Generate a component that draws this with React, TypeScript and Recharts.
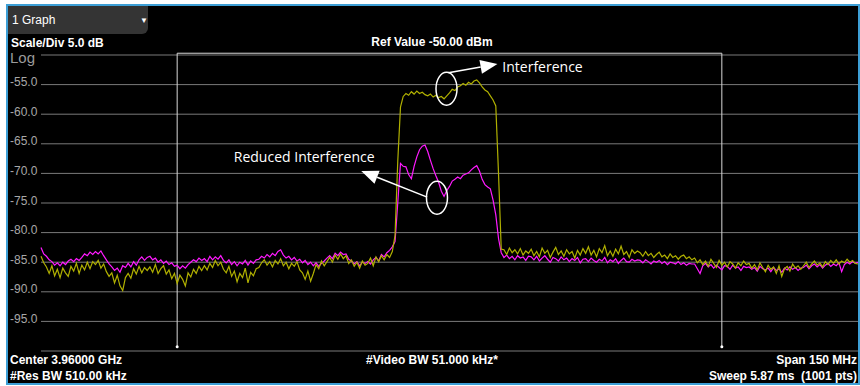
import React from 'react'
import { LineChart, Line, XAxis, YAxis, CartesianGrid, ReferenceLine, ReferenceDot } from 'recharts'

// sweep: 301 points, -75 MHz .. +75 MHz around 3.96 GHz
const START_MHZ = -75
const STEP_MHZ = 0.5

// trace 1 (yellow) - with interference, dBm
const trace1 = [
  -84.0, -85.1, -85.8, -86.9, -85.6, -87.3, -86.2, -87.6, -86.0, -86.8, -87.4, -85.7, -86.5, -85.2, -86.9, -85.5, -86.3, -85.0, -86.1, -84.9,
  -85.4, -84.7, -86.0, -85.3, -86.6, -87.4, -86.8, -88.5, -87.2, -89.0, -89.8, -87.6, -86.9, -87.7, -86.1, -87.0, -85.7, -86.8, -85.9, -86.4,
  -85.8, -86.7, -85.4, -86.9, -86.1, -85.6, -87.0, -86.3, -87.8, -86.9, -88.6, -87.2, -87.9, -89.0, -86.8, -87.5, -86.2, -86.9, -85.7, -86.4,
  -85.6, -86.3, -85.2, -85.9, -84.7, -85.6, -85.0, -86.2, -86.8, -85.7, -87.4, -86.5, -88.3, -86.9, -87.6, -86.0, -88.5, -86.7, -87.3, -86.1,
  -85.9, -85.1, -84.6, -85.5, -84.9, -85.8, -84.7, -85.3, -84.4, -85.6, -85.0, -86.1, -85.2, -85.7, -84.9, -86.3, -86.8, -87.9, -86.5, -88.2,
  -86.9, -85.4, -86.1, -84.8, -85.6, -84.9, -84.2, -85.0, -83.8, -84.5, -83.6, -84.4, -83.9, -85.2, -84.6, -85.7, -85.0, -86.0, -84.8, -85.5,
  -85.2, -84.3, -85.6, -84.1, -84.9, -83.9, -84.6, -83.7, -84.2, -83.2, -80.5, -68.0, -58.8, -57.0, -56.5, -56.8, -56.2, -56.6, -56.1, -56.5,
  -56.3, -56.7, -56.9, -56.6, -57.1, -56.8, -57.2, -57.0, -57.4, -56.9, -56.4, -55.8, -56.0, -55.4, -55.2, -54.8, -55.1, -54.6, -54.9, -54.4,
  -54.2, -54.7, -55.4, -55.9, -56.2, -56.9, -57.6, -58.6, -70.0, -82.8, -82.9, -83.7, -82.6, -83.4, -82.9, -83.6, -82.7, -83.8, -83.1, -83.5,
  -82.8, -83.9, -83.2, -84.1, -82.6, -83.5, -83.0, -84.2, -83.3, -82.5, -83.7, -83.1, -84.0, -82.9, -83.6, -83.2, -84.3, -83.0, -83.8, -82.7,
  -83.5, -82.4, -83.8, -83.0, -84.1, -82.7, -83.4, -82.2, -83.9, -83.1, -84.0, -82.8, -83.6, -82.3, -83.7, -83.2, -84.2, -82.9, -83.5, -83.1,
  -83.4, -84.0, -83.2, -83.9, -83.5, -84.2, -83.7, -83.3, -84.1, -83.8, -84.4, -83.6, -84.2, -83.9, -84.5, -84.0, -83.8, -84.4, -84.1, -84.6,
  -84.3, -85.1, -84.6, -85.4, -84.8, -85.7, -84.5, -85.2, -85.9, -84.7, -85.5, -85.0, -85.8, -84.9, -85.3, -86.0, -85.1, -85.6, -84.8, -85.4,
  -85.2, -86.0, -85.4, -86.3, -85.1, -85.9, -86.6, -85.5, -86.2, -85.8, -86.9, -85.6, -87.4, -86.1, -85.7, -86.5, -85.3, -86.0, -85.6, -86.2,
  -85.6, -85.0, -85.9, -85.3, -84.8, -85.5, -85.1, -85.8, -84.9, -85.4, -84.7, -85.2, -84.6, -85.3, -84.8, -85.1, -84.5, -85.0, -84.7, -85.2,
  -85.3,
]

// trace 2 (magenta) - reduced interference, dBm
const trace2 = [
  -82.5, -83.6, -84.0, -84.6, -84.9, -85.5, -85.1, -85.6, -85.0, -85.4, -84.8, -84.5, -84.9, -84.4, -84.7, -84.2, -83.6, -83.9, -83.3, -83.7,
  -83.2, -83.6, -83.1, -83.9, -84.6, -85.3, -85.8, -86.4, -86.0, -86.7, -85.6, -85.9, -85.2, -85.8, -84.9, -85.5, -84.6, -84.1, -84.7, -84.2,
  -84.0, -84.6, -84.3, -85.0, -84.6, -85.2, -84.8, -85.4, -85.1, -85.7, -85.5, -86.1, -85.6, -86.0, -85.4, -85.0, -84.6, -84.9, -84.3, -84.7,
  -84.4, -84.9, -84.0, -84.6, -84.1, -84.5, -83.9, -84.7, -85.1, -84.6, -85.4, -84.9, -85.6, -85.0, -85.3, -84.7, -85.5, -84.8, -85.2, -84.6,
  -84.5, -84.0, -84.3, -83.7, -84.1, -83.5, -83.9, -83.2, -82.9, -83.8, -84.3, -84.0, -84.6, -84.2, -84.8, -84.5, -85.1, -84.7, -85.4, -85.0,
  -85.6, -85.1, -85.7, -85.2, -84.8, -84.3, -83.9, -84.4, -83.5, -83.9, -83.3, -83.7, -83.6, -84.5, -84.8, -85.3, -84.9, -85.6, -85.0, -85.2,
  -84.9, -85.3, -84.6, -84.2, -84.8, -83.7, -84.1, -83.4, -83.0, -82.4, -81.5, -75.0, -68.3, -68.8, -68.9, -70.2, -70.9, -68.8, -67.2, -66.0,
  -65.4, -65.2, -66.3, -67.8, -69.2, -70.4, -71.5, -73.0, -73.9, -72.9, -72.2, -71.3, -71.0, -70.6, -70.9, -70.3, -70.1, -69.9, -69.4, -69.0,
  -68.7, -69.6, -71.0, -71.9, -72.3, -72.6, -74.5, -77.0, -81.0, -83.4, -84.2, -83.8, -84.4, -84.0, -84.6, -83.9, -84.3, -84.1, -84.7, -84.0,
  -84.1, -84.6, -84.0, -84.8, -84.3, -83.9, -84.5, -85.0, -84.2, -84.4, -84.8, -84.1, -84.6, -84.3, -84.9, -84.4, -84.7, -84.2, -85.1, -84.5,
  -84.4, -84.9, -84.3, -84.7, -85.0, -84.5, -84.8, -84.2, -85.1, -84.6, -84.9, -84.4, -85.2, -84.7, -84.3, -84.9, -85.0, -84.5, -84.8, -84.6,
  -84.7, -85.1, -84.6, -84.9, -85.3, -84.8, -85.0, -84.7, -85.2, -84.9, -85.4, -85.0, -85.1, -85.3, -84.9, -85.4, -85.1, -85.5, -85.2, -85.3,
  -85.3, -86.1, -86.9, -85.6, -85.2, -85.8, -85.4, -86.0, -85.5, -85.9, -86.3, -85.6, -85.7, -86.2, -85.5, -86.0, -85.8, -86.4, -85.7, -85.9,
  -85.8, -86.2, -85.9, -86.5, -85.7, -86.1, -86.3, -86.0, -86.6, -85.9, -86.4, -86.1, -86.7, -86.0, -86.3, -85.8, -86.2, -85.9, -86.4, -86.0,
  -85.9, -85.5, -86.1, -85.6, -85.3, -85.8, -85.4, -86.0, -85.5, -85.2, -85.7, -85.3, -85.6, -85.1, -86.6, -85.4, -85.0, -85.3, -84.9, -85.2,
  -85.0,
]

const yTicks = [-100, -95, -90, -85, -80, -75, -70, -65, -60, -55, -50]
const xTicks = [-75, -60, -45, -30, -15, 0, 15, 30, 45, 60, 75]

// channel power bracket (MHz), top/bottom level in dB
const channelEdges = [-50, 50]
const bracketTop = -49.7
const bracketBottom = -99.3

// annotations (MHz, dBm)
const ellipses = [
  { f: -0.55, db: -55.7 },
  { f: -2.3, db: -74.1 },
]
const arrows = [
  { f1: -0.2, db1: -53.0, f2: 8.8, db2: -51.5 },
  { f1: -4.1, db1: -74.0, f2: -16.2, db2: -69.6 },
]
const notes = [
  { f: 9.7, db: -52.0, text: 'Interference' },
  { f: -39.6, db: -67.2, text: 'Reduced Interference' },
]

const data = trace1.map((v, i) => ({ f: START_MHZ + i * STEP_MHZ, t1: v, t2: trace2[i] }))

const YTick = (props: any) => {
  const { y, payload } = props
  if (payload.value === -50 || payload.value === -100) return <g />
  return (
    <text x={10} y={y - 2.5} dominantBaseline="central" fill="#a8a8a8" fontSize={12}
      fontFamily='"Liberation Sans", Arial, sans-serif'>
      {payload.value.toFixed(1)}
    </text>
  )
}

const Arrow = (props: any) => {
  const { x1, y1, x2, y2 } = props
  const ang = Math.atan2(y2 - y1, x2 - x1)
  const len = 17
  const half = 7
  const bx = x2 - len * Math.cos(ang)
  const by = y2 - len * Math.sin(ang)
  const px = -Math.sin(ang) * half
  const py = Math.cos(ang) * half
  return (
    <g>
      <line x1={x1} y1={y1} x2={bx} y2={by} stroke="#fff" strokeWidth={1.5} />
      <polygon points={`${x2},${y2} ${bx + px},${by + py} ${bx - px},${by - py}`} fill="#fff" />
    </g>
  )
}

const Ellipse = (props: any) => (
  <ellipse cx={props.cx} cy={props.cy} rx={10.5} ry={16.5} fill="none" stroke="#fff" strokeWidth={1.5} />
)

const Note = (text: string) => (props: any) => (
  <text x={props.cx} y={props.cy} dominantBaseline="central" fill="#fff" fontSize={14}
    fontFamily='"Open Sans", sans-serif'>
    {text}
  </text>
)

const label: React.CSSProperties = {
  position: 'absolute', color: '#fff', fontWeight: 'bold', fontSize: 12, lineHeight: '14px', whiteSpace: 'nowrap',
}

const App = () => {
  return (
    <div style={{ position: 'absolute', left: 0, top: 0, width: 860, height: 386, background: '#fff', overflow: 'hidden',
      fontFamily: '"Liberation Sans", Arial, sans-serif' }}>
      <div style={{ position: 'absolute', left: 6, top: 4, width: 850, height: 377, background: '#000',
        border: '2px solid #3d9fd6' }} />
      <div style={{ position: 'absolute', left: 8, top: 6, width: 140, height: 28, background: '#343434',
        borderBottomRightRadius: 6 }} />
      <div style={{ ...label, left: 12, top: 13, fontWeight: 'normal' }}>1 Graph</div>
      <div style={{ ...label, left: 140, top: 14, fontSize: 8 }}>▼</div>
      <div style={{ ...label, left: 11, top: 36 }}>Scale/Div 5.0 dB</div>
      <div style={{ ...label, left: 10, top: 50, color: '#9a9a9a', fontWeight: 'normal', fontSize: 15, lineHeight: '16px' }}>Log</div>
      <div style={{ ...label, left: 332, width: 200, top: 35, textAlign: 'center' }}>Ref Value -50.00 dBm</div>
      <div style={{ ...label, left: 10, top: 353 }}>Center 3.96000 GHz</div>
      <div style={{ ...label, left: 10, top: 369 }}>#Res BW 510.00 kHz</div>
      <div style={{ ...label, left: 332, width: 200, top: 353, textAlign: 'center' }}>#Video BW 51.000 kHz*</div>
      <div style={{ ...label, right: 3, top: 353 }}>Span 150 MHz</div>
      <div style={{ ...label, right: 3, top: 369 }}>Sweep 5.87 ms&nbsp; (1001 pts)</div>

      <div style={{ position: 'absolute', left: 0, top: 0 }}>
        <LineChart width={860} height={386} data={data} margin={{ top: 55, right: 2, bottom: 0, left: 8 }}>
          <CartesianGrid stroke="#7a7a7a" horizontalValues={yTicks} verticalValues={xTicks} />
          <XAxis dataKey="f" type="number" domain={[-75, 75]} ticks={xTicks} tick={false} tickLine={false}
            axisLine={false} height={35} />
          <YAxis type="number" domain={[-100, -50]} ticks={yTicks} interval={0} width={33} tickLine={false}
            axisLine={false} tick={<YTick />} />

          {channelEdges.map((x) => (
            <ReferenceLine key={`edge-${x}`} segment={[{ x, y: bracketTop }, { x, y: bracketBottom }]}
              stroke="#d8d8d8" ifOverflow="visible" />
          ))}
          <ReferenceLine segment={[{ x: channelEdges[0], y: bracketTop }, { x: channelEdges[1], y: bracketTop }]}
            stroke="#d8d8d8" ifOverflow="visible" />
          {channelEdges.map((x) => (
            <ReferenceDot key={`dot-${x}`} x={x} y={bracketBottom} r={1.5} fill="#fff" stroke="none" ifOverflow="visible" />
          ))}

          <Line type="linear" dataKey="t2" stroke="#ff1aff" strokeWidth={1.2} dot={false} isAnimationActive={false} />
          <Line type="linear" dataKey="t1" stroke="#b0b000" strokeWidth={1.2} dot={false} isAnimationActive={false} />

          {ellipses.map((e, i) => (
            <ReferenceDot key={`el-${i}`} x={e.f} y={e.db} shape={Ellipse} ifOverflow="visible" />
          ))}
          {arrows.map((a, i) => (
            <ReferenceLine key={`ar-${i}`} segment={[{ x: a.f1, y: a.db1 }, { x: a.f2, y: a.db2 }]}
              shape={Arrow} ifOverflow="visible" />
          ))}
          {notes.map((n, i) => (
            <ReferenceDot key={`nt-${i}`} x={n.f} y={n.db} shape={Note(n.text)} ifOverflow="visible" />
          ))}
        </LineChart>
      </div>
    </div>
  )
}

export default App
